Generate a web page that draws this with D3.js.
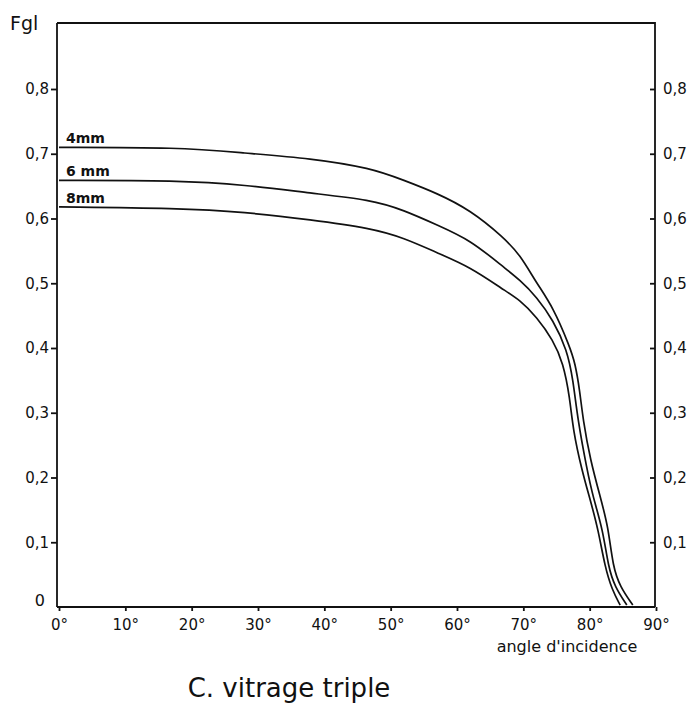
<!DOCTYPE html>
<html>
<head>
<meta charset="utf-8">
<script src="https://cdn.jsdelivr.net/npm/d3@7"></script>
<style>
  html, body { margin: 0; padding: 0; background: #fff; }
  svg { display: block; }
  text { font-family: "DejaVu Sans", "Liberation Sans", sans-serif; fill: #111; }
</style>
</head>
<body>
<svg id="chart" width="700" height="708"></svg>
<script>
// Angle of incidence (degrees) and glazing factor Fgl for triple glazing
const series4mm = [
  [0, 0.710], [18, 0.710], [28, 0.701], [38, 0.693], [47, 0.678], [52, 0.659],
  [57, 0.639], [62, 0.613], [67, 0.571], [69.5, 0.544], [72, 0.500], [74.5, 0.463],
  [77, 0.402], [77.8, 0.377], [78.5, 0.335], [79, 0.289], [80.1, 0.227], [81.6, 0.170],
  [82.8, 0.124], [83.5, 0.062], [84.6, 0.031], [86.5, 0.003]
];
const series6mm = [
  [0, 0.659], [18, 0.659], [28, 0.652], [38, 0.639], [47, 0.629], [52, 0.613],
  [57, 0.590], [62, 0.567], [67, 0.525], [69.5, 0.505], [72, 0.479], [74.5, 0.443],
  [76.6, 0.397], [77.5, 0.351], [78.2, 0.289], [79.6, 0.212], [80.5, 0.170], [82, 0.119],
  [82.8, 0.062], [83.8, 0.031], [85.6, 0.003]
];
const series8mm = [
  [0, 0.618], [18, 0.616], [28, 0.610], [38, 0.598], [47, 0.585], [52, 0.570],
  [57, 0.547], [62, 0.525], [67, 0.490], [69.5, 0.474], [72, 0.448], [74.5, 0.412],
  [76, 0.377], [77, 0.324], [77.5, 0.273], [78.8, 0.212], [80.1, 0.165], [81.3, 0.119],
  [82.3, 0.062], [83.4, 0.026], [84.6, 0.003]
];
const seriesNames = ["4mm", "6 mm", "8mm"];
const xTicks = [0, 10, 20, 30, 40, 50, 60, 70, 80, 90];
const xTickLabels = ["0°", "10°", "20°", "30°", "40°", "50°", "60°", "70°", "80°", "90°"];
const yTicks = [0.1, 0.2, 0.3, 0.4, 0.5, 0.6, 0.7, 0.8];
const yTickLabels = ["0,1", "0,2", "0,3", "0,4", "0,5", "0,6", "0,7", "0,8"];

const svg = d3.select("#chart");
const frame = { left: 57, right: 655, top: 23, bottom: 607 };

const x = d3.scaleLinear().domain([0, 90]).range([59, 656]);
const y = d3.scaleLinear().domain([0, 0.8]).range([607, 89]);

// Frame: top and right edges
svg.append("path")
  .attr("d", `M${frame.left},${frame.top}H${frame.right}V${frame.bottom}`)
  .attr("fill", "none").attr("stroke", "#111").attr("stroke-width", 1.8);

// Left axis
const leftAxis = svg.append("g").attr("transform", `translate(${frame.left},0)`)
  .call(d3.axisLeft(y).tickValues(yTicks).tickFormat((d, i) => yTickLabels[i])
    .tickSize(6).tickSizeOuter(0).tickPadding(2));
leftAxis.select(".domain").attr("d", `M0,${frame.top}V${frame.bottom}`);

// Right axis
const rightAxis = svg.append("g").attr("transform", `translate(${frame.right},0)`)
  .call(d3.axisRight(y).tickValues(yTicks).tickFormat((d, i) => yTickLabels[i])
    .tickSize(-5).tickSizeOuter(0).tickPadding(8));
rightAxis.select(".domain").remove();

// Bottom axis
const bottomAxis = svg.append("g").attr("transform", `translate(0,${frame.bottom})`)
  .call(d3.axisBottom(x).tickValues(xTicks).tickFormat((d, i) => xTickLabels[i])
    .tickSize(4).tickSizeOuter(0).tickPadding(8));
bottomAxis.select(".domain").attr("d", `M${frame.left},0H${frame.right}`);

[leftAxis, rightAxis, bottomAxis].forEach(g => {
  g.selectAll(".domain, .tick line").attr("stroke", "#111").attr("stroke-width", 1.8);
  g.selectAll(".tick text").style("font-size", "15px").attr("fill", "#111")
    .style("font-family", "'DejaVu Sans', sans-serif");
});

// Zero label on the left axis
svg.append("text").attr("x", 45).attr("y", y(0) - 1).attr("text-anchor", "end")
  .style("font-size", "16px").text("0");

// Curves (smoothed through the read-off points)
const line = d3.line().x(d => x(d[0])).y(d => y(d[1])).curve(d3.curveBasis);
[series4mm, series6mm, series8mm].forEach(s => {
  svg.append("path").datum(s).attr("d", line)
    .attr("fill", "none").attr("stroke", "#111").attr("stroke-width", 1.7);
});

// Curve labels
[series4mm, series6mm, series8mm].forEach((s, i) => {
  svg.append("text").attr("x", x(0) + 7).attr("y", y(s[0][1]) - 4)
    .style("font-size", "14px").style("font-weight", "bold").text(seriesNames[i]);
});

// Axis titles
svg.append("text").attr("x", 10).attr("y", 30).style("font-size", "19px").text("Fgl");
svg.append("text").attr("x", 567).attr("y", 652).attr("text-anchor", "middle")
  .style("font-size", "16px").text("angle d'incidence");

// Caption
svg.append("text").attr("x", 289).attr("y", 697).attr("text-anchor", "middle")
  .style("font-size", "26px").text("C. vitrage triple");
</script>
</body>
</html>
